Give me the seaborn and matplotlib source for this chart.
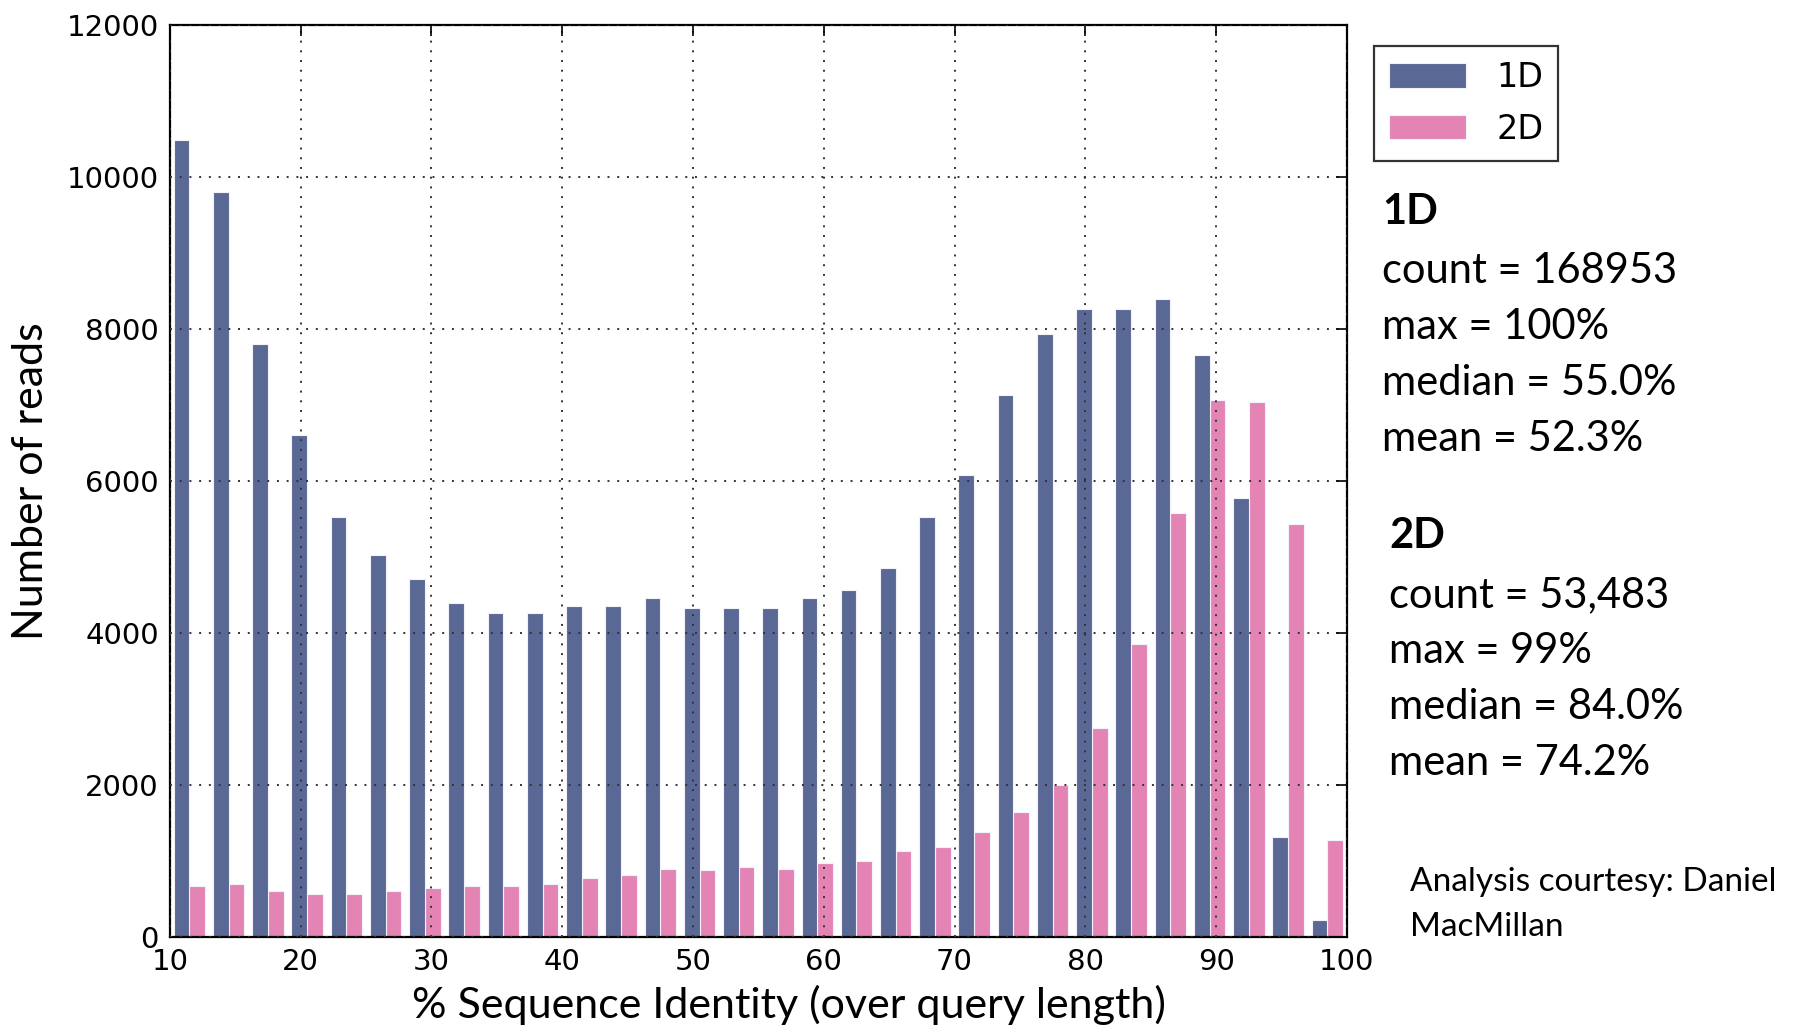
import numpy as np
import pandas as pd
import matplotlib
matplotlib.use("Agg")
import matplotlib.pyplot as plt
import seaborn as sns

# bins of 3 % identity from 10 to 100
bin_edges = list(range(10, 101, 3))
counts_1d = [10490, 9800, 7800, 6600, 5530, 5030, 4710, 4400, 4260, 4260,
             4360, 4360, 4460, 4330, 4330, 4330, 4460, 4570, 4850, 5530,
             6080, 7130, 7940, 8260, 8260, 8390, 7660, 5780, 1320, 230]
counts_2d = [670, 700, 600, 570, 570, 600, 650, 670, 670, 700,
             770, 820, 900, 880, 920, 900, 970, 1000, 1130, 1180,
             1380, 1650, 2000, 2750, 3850, 5580, 7060, 7040, 5430, 1280]
series = ["1D", "2D"]
colors = ["#5a6896", "#e384b5"]

stats_1d = ["count = 168953", "max = 100%", "median = 55.0%", "mean = 52.3%"]
stats_2d = ["count = 53,483", "max = 99%", "median = 84.0%", "mean = 74.2%"]
credit = ["Analysis courtesy: Daniel", "MacMillan"]

centers = [e + 1.5 for e in bin_edges[:-1]]
df = pd.DataFrame({
    "identity": centers * 2,
    "reads": counts_1d + counts_2d,
    "type": [series[0]] * len(counts_1d) + [series[1]] * len(counts_2d),
})

sns.set_style("white")
plt.rcParams["font.family"] = ["DejaVu Sans"]
plt.rcParams["text.color"] = "black"
plt.rcParams["axes.labelcolor"] = "black"
plt.rcParams["xtick.color"] = "black"
plt.rcParams["ytick.color"] = "black"
label_font = ["Lato", "DejaVu Sans"]

fig = plt.figure(figsize=(17.99, 10.28), dpi=100)
ax = fig.add_axes([0.0944, 0.0885, 0.6543, 0.8872])

sns.histplot(data=df, x="identity", weights="reads", hue="type",
             hue_order=series, palette=colors, bins=bin_edges,
             multiple="dodge", shrink=0.8, alpha=1,
             edgecolor="#f2f2f8", linewidth=0.8, ax=ax)

ax.set_xlim(10, 100)
ax.set_ylim(0, 12000)
ax.set_xticks(range(10, 101, 10))
ax.set_yticks(range(0, 12001, 2000))
ax.grid(True, color="#333333", linestyle=(0, (1, 4)), linewidth=1.4)
ax.set_axisbelow(False)
ax.tick_params(direction="in", length=8, width=1.2, labelsize=21,
               top=True, right=True, pad=8)
for s in ax.spines.values():
    s.set_color("black")
    s.set_linewidth(1.6)

ax.set_xlabel("% Sequence Identity (over query length)", fontsize=31,
              family=label_font, labelpad=6)
ax.xaxis.label.set_x(0.526)
ax.set_ylabel("Number of reads", fontsize=31, family=label_font, labelpad=12)

sns.move_legend(ax, "upper left", bbox_to_anchor=(0.764, 0.955),
                bbox_transform=fig.transFigure, title=None, frameon=True,
                fontsize=24, handlelength=2.3, handleheight=0.75,
                borderpad=0.45, labelspacing=0.55, handletextpad=0.9,
                borderaxespad=0)
leg = ax.get_legend()
leg.get_frame().set_edgecolor("black")
leg.get_frame().set_linewidth(1.6)
leg.get_frame().set_boxstyle("square", pad=0)

W, H = 1799, 1028

def put(x, y, s, **kw):
    fig.text(x / W, 1 - y / H, s, va="center", ha="left",
             family=label_font, **kw)

put(1382, 212, "1D", fontsize=30, weight="bold")
for i, s in enumerate(stats_1d):
    put(1382, 271 + i * 56, s, fontsize=30)
put(1389, 536, "2D", fontsize=30, weight="bold")
for i, s in enumerate(stats_2d):
    put(1389, 595 + i * 56, s, fontsize=30)
for i, s in enumerate(credit):
    put(1410, 882 + i * 45, s, fontsize=24)

fig.savefig("out.png", dpi=100)
